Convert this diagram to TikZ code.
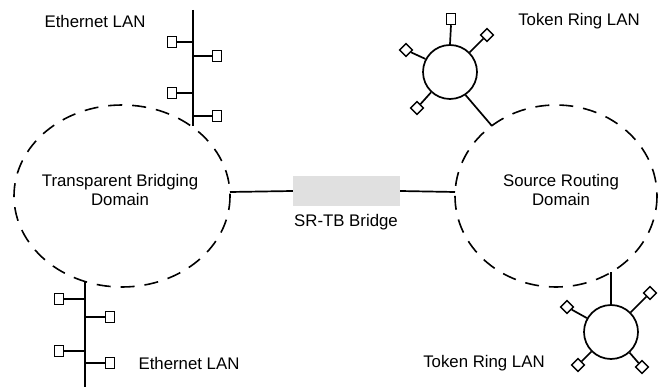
\documentclass[tikz,border=0pt]{standalone}
\usepackage{fontspec}
\setmainfont{Liberation Sans}
\begin{document}
\begin{tikzpicture}[x=1pt,y=-1pt,
  ln/.style={line width=1.7pt},
  dom/.style={line width=1.6pt, dash pattern=on 14pt off 10pt},
  stn/.style={draw, line width=1.5pt, minimum width=9pt, minimum height=11pt, inner sep=0pt, fill=white},
  dia/.style={draw, line width=1.5pt, minimum width=9pt, minimum height=9pt, inner sep=0pt, fill=white, rotate=45},
  lbl/.style={font=\fontsize{16.8}{19.5}\selectfont, inner sep=0pt},
  ring/.style={draw, circle, line width=1.7pt, minimum size=54pt, inner sep=0pt}]
\useasboundingbox (0,0) rectangle (658,387);

% domains
\draw[dom] (122,196) ellipse [x radius=108, y radius=91];
\draw[dom] (556,196) ellipse [x radius=101, y radius=91];
\coordinate (tbR) at (230,192);
\coordinate (srL) at (455,192);
\node[lbl, align=center] (tbd) at (120,190) {Transparent Bridging\\Domain};
\node[lbl, align=center] (srd) at (561,190) {Source Routing\\Domain};

% bridge
\node[draw=none, fill=black!12, minimum width=107pt, minimum height=30pt, inner sep=0pt] (br) at (346.5,191) {};
\node[lbl] (brl) at (346,222) {SR-TB Bridge};
\draw[ln] (tbR) -- (br.west);
\draw[ln] (br.east) -- (srL);

% top ethernet
\coordinate (e1t) at (193,10);
\coordinate (e1b) at (193,126);
\draw[ln] (e1t) -- (e1b);
\node[stn] (a1) at (172,42) {};
\node[stn] (a2) at (217,56) {};
\node[stn] (a3) at (172,93) {};
\node[stn] (a4) at (217,116) {};
\draw[ln] (a1.east) -- (a1.east -| e1t);
\draw[ln] (a2.west) -- (a2.west -| e1t);
\draw[ln] (a3.east) -- (a3.east -| e1t);
\draw[ln] (a4.west) -- (a4.west -| e1t);
\node[lbl] (el1) at (95,21) {Ethernet LAN};

% bottom ethernet
\coordinate (e2t) at (85,282);
\coordinate (e2b) at (85,387);
\draw[ln] (e2t) -- (e2b);
\node[stn] (b1) at (59,299) {};
\node[stn] (b2) at (110,317) {};
\node[stn] (b3) at (59,351) {};
\node[stn] (b4) at (110,363) {};
\draw[ln] (b1.east) -- (b1.east -| e2t);
\draw[ln] (b2.west) -- (b2.west -| e2t);
\draw[ln] (b3.east) -- (b3.east -| e2t);
\draw[ln] (b4.west) -- (b4.west -| e2t);
\node[lbl] (el2) at (189,363) {Ethernet LAN};

% top token ring
\node[ring] (r1) at (450,72) {};
\node[stn] (t1) at (451,19) {};
\node[dia] (t2) at (487,35) {};
\node[dia] (t3) at (406,50) {};
\node[dia] (t4) at (417,108) {};
\coordinate (t5) at (492,126);
\draw[ln] (r1.90) -- (t1.south);
\draw[ln] (r1.45) -- (t2);
\draw[ln] (r1.152) -- (t3);
\draw[ln] (r1.227) -- (t4);
\draw[ln] (r1.-56) -- (t5);
\node[lbl] (tr1) at (579,21) {Token Ring LAN};

% bottom token ring
\node[ring] (r2) at (611,332) {};
\coordinate (u0) at (611,272);
\node[dia] (u1) at (567,307) {};
\node[dia] (u2) at (650,293) {};
\node[dia] (u3) at (578,365) {};
\node[dia] (u4) at (642,367) {};
\draw[ln] (r2.90) -- (u0);
\draw[ln] (r2.150) -- (u1);
\draw[ln] (r2.45) -- (u2);
\draw[ln] (r2.225) -- (u3);
\draw[ln] (r2.-48) -- (u4);
\node[lbl] (tr2) at (484,363) {Token Ring LAN};
\end{tikzpicture}
\end{document}
